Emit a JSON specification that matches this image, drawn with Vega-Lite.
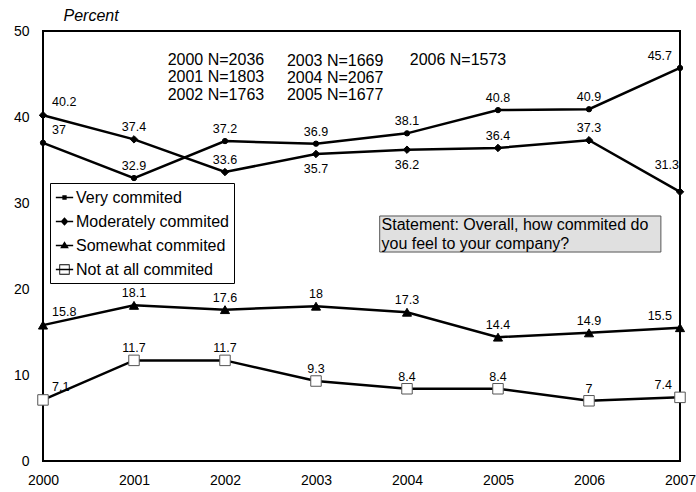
{
  "$schema": "https://vega.github.io/schema/vega-lite/v6.json",
  "width": 637,
  "height": 430,
  "autosize": {"type": "none"},
  "padding": {"left": 43, "top": 31, "right": 16, "bottom": 31},
  "background": "white",
  "config": {
    "font": "Liberation Sans",
    "view": {"stroke": "black", "strokeWidth": 2},
    "axis": {"grid": false, "domain": false, "ticks": false, "labelColor": "black", "labelFont": "Liberation Sans"}
  },
  "data": {
    "values": [
      {"year": 2000, "series": "Very commited", "value": 37},
      {"year": 2001, "series": "Very commited", "value": 32.9},
      {"year": 2002, "series": "Very commited", "value": 37.2},
      {"year": 2003, "series": "Very commited", "value": 36.9},
      {"year": 2004, "series": "Very commited", "value": 38.1},
      {"year": 2005, "series": "Very commited", "value": 40.8},
      {"year": 2006, "series": "Very commited", "value": 40.9},
      {"year": 2007, "series": "Very commited", "value": 45.7},
      {"year": 2000, "series": "Moderately commited", "value": 40.2},
      {"year": 2001, "series": "Moderately commited", "value": 37.4},
      {"year": 2002, "series": "Moderately commited", "value": 33.6},
      {"year": 2003, "series": "Moderately commited", "value": 35.7},
      {"year": 2004, "series": "Moderately commited", "value": 36.2},
      {"year": 2005, "series": "Moderately commited", "value": 36.4},
      {"year": 2006, "series": "Moderately commited", "value": 37.3},
      {"year": 2007, "series": "Moderately commited", "value": 31.3},
      {"year": 2000, "series": "Somewhat commited", "value": 15.8},
      {"year": 2001, "series": "Somewhat commited", "value": 18.1},
      {"year": 2002, "series": "Somewhat commited", "value": 17.6},
      {"year": 2003, "series": "Somewhat commited", "value": 18},
      {"year": 2004, "series": "Somewhat commited", "value": 17.3},
      {"year": 2005, "series": "Somewhat commited", "value": 14.4},
      {"year": 2006, "series": "Somewhat commited", "value": 14.9},
      {"year": 2007, "series": "Somewhat commited", "value": 15.5},
      {"year": 2000, "series": "Not at all commited", "value": 7.1},
      {"year": 2001, "series": "Not at all commited", "value": 11.7},
      {"year": 2002, "series": "Not at all commited", "value": 11.7},
      {"year": 2003, "series": "Not at all commited", "value": 9.3},
      {"year": 2004, "series": "Not at all commited", "value": 8.4},
      {"year": 2005, "series": "Not at all commited", "value": 8.4},
      {"year": 2006, "series": "Not at all commited", "value": 7},
      {"year": 2007, "series": "Not at all commited", "value": 7.4}
    ]
  },
  "encoding": {
    "x": {
      "field": "year", "type": "quantitative",
      "scale": {"domain": [2000, 2007], "nice": false, "zero": false},
      "axis": {"title": null, "values": [2000, 2001, 2002, 2003, 2004, 2005, 2006, 2007], "format": "d", "labelFontSize": 14, "labelPadding": 12, "labelFlush": false, "labelOverlap": false}
    },
    "y": {
      "field": "value", "type": "quantitative",
      "scale": {"domain": [0, 50], "nice": false},
      "axis": {"title": "Percent", "values": [0, 10, 20, 30, 40, 50], "labelFontSize": 14, "labelPadding": 14,
        "titleAngle": 0, "titleAlign": "left", "titleBaseline": "middle", "titleX": 20, "titleY": -16,
        "titleFontSize": 16, "titleFontStyle": "italic", "titleFontWeight": "normal", "titleFont": "Liberation Sans"}
    }
  },
  "layer": [
    {
      "mark": {"type": "line", "color": "black", "strokeWidth": 2.5},
      "encoding": {"detail": {"field": "series"}}
    },
    {
      "mark": {"type": "point", "filled": true, "strokeWidth": 1, "opacity": 1},
      "encoding": {
        "shape": {"field": "series", "type": "nominal", "legend": null,
          "scale": {"domain": ["Very commited", "Moderately commited", "Somewhat commited", "Not at all commited"], "range": ["circle", "diamond", "triangle-up", "square"]}},
        "fill": {"field": "series", "type": "nominal", "legend": null,
          "scale": {"domain": ["Very commited", "Moderately commited", "Somewhat commited", "Not at all commited"], "range": ["black", "black", "black", "white"]}},
        "stroke": {"field": "series", "type": "nominal", "legend": null,
          "scale": {"domain": ["Very commited", "Moderately commited", "Somewhat commited", "Not at all commited"], "range": ["black", "black", "black", "#555555"]}},
        "size": {"field": "series", "type": "nominal", "legend": null,
          "scale": {"domain": ["Very commited", "Moderately commited", "Somewhat commited", "Not at all commited"], "range": [28, 110, 90, 100]}}
      }
    },
    {
      "mark": {"type": "point", "filled": true, "opacity": 0, "size": 300, "color": "black", "strokeWidth": 1.5},
      "encoding": {
        "shape": {"field": "series", "type": "nominal",
          "scale": {"domain": ["Very commited", "Moderately commited", "Somewhat commited", "Not at all commited"],
            "range": [
              "M-1,-0.1H1V0.1H-1ZM-0.25,-0.25H0.25V0.25H-0.25Z",
              "M-1,-0.1H1V0.1H-1ZM0,-0.5L0.45,0L0,0.5L-0.45,0Z",
              "M-1,-0.1H1V0.1H-1ZM0,-0.5L0.5,0.32H-0.5Z",
              "M-1,-0.1H1V0.1H-1ZM-0.6,-0.6H0.6V0.6H-0.6ZM-0.5,-0.5V0.5H0.5V-0.5Z"]},
          "legend": {"title": null, "orient": "none", "legendX": 7, "legendY": 152, "direction": "vertical",
            "fillColor": "white", "strokeColor": "black", "padding": 5,
            "symbolSize": 300, "symbolFillColor": "black", "symbolStrokeColor": "black", "symbolOpacity": 1,
            "labelFontSize": 16, "labelFont": "Liberation Sans", "labelColor": "black", "labelOffset": 2, "rowPadding": 6, "labelLimit": 300,
            "labelExpr": "datum.label + '\u00a0\u00a0\u00a0\u00a0\u00a0'",
            "symbolOffset": 0,
            "encode": {"symbols": {"update": {"opacity": {"value": 1}, "fill": {"value": "black"}, "size": {"value": 300}}}}}
        }
      }
    },
    {
      "transform": [{"filter": "datum.year > 2000 && datum.year < 2007 && !(datum.series == 'Moderately commited' && (datum.year == 2003 || datum.year == 2004))"}],
      "mark": {"type": "text", "fontSize": 12.5, "align": "center", "baseline": "middle", "dy": -12, "color": "black"},
      "encoding": {"text": {"field": "value", "type": "nominal"}}
    },
    {
      "transform": [{"filter": "datum.series == 'Moderately commited' && (datum.year == 2003 || datum.year == 2004)"}],
      "mark": {"type": "text", "fontSize": 12.5, "align": "center", "baseline": "middle", "dy": 15, "color": "black"},
      "encoding": {"text": {"field": "value", "type": "nominal"}}
    },
    {
      "transform": [{"filter": "datum.year == 2000"}],
      "mark": {"type": "text", "fontSize": 12.5, "align": "left", "baseline": "middle", "dx": 9, "dy": -13, "color": "black"},
      "encoding": {"text": {"field": "value", "type": "nominal"}}
    },
    {
      "transform": [{"filter": "datum.year == 2007 && datum.series != 'Moderately commited'"}],
      "mark": {"type": "text", "fontSize": 12.5, "align": "right", "baseline": "middle", "dx": -8, "dy": -12, "color": "black"},
      "encoding": {"text": {"field": "value", "type": "nominal"}}
    },
    {
      "transform": [{"filter": "datum.year == 2007 && datum.series == 'Moderately commited'"}],
      "mark": {"type": "text", "fontSize": 12.5, "align": "right", "baseline": "middle", "dx": -1, "dy": -27, "color": "black"},
      "encoding": {"text": {"field": "value", "type": "nominal"}}
    },
    {
      "transform": [{"filter": "datum.year == 2000 && datum.series == 'Very commited'"}],
      "mark": {"type": "text", "fontSize": 16, "align": "left", "baseline": "top", "lineHeight": 17.5, "color": "black",
        "text": ["2000  N=2036", "2001  N=1803", "2002  N=1763"]},
      "encoding": {"x": {"datum": 2001.37}, "y": {"datum": 47.6}}
    },
    {
      "transform": [{"filter": "datum.year == 2000 && datum.series == 'Very commited'"}],
      "mark": {"type": "text", "fontSize": 16, "align": "left", "baseline": "top", "lineHeight": 17, "color": "black",
        "text": ["2003  N=1669", "2004  N=2067", "2005  N=1677"]},
      "encoding": {"x": {"datum": 2002.68}, "y": {"datum": 47.45}}
    },
    {
      "transform": [{"filter": "datum.year == 2000 && datum.series == 'Very commited'"}],
      "mark": {"type": "text", "fontSize": 16, "align": "left", "baseline": "top", "color": "black",
        "text": "2006  N=1573"},
      "encoding": {"x": {"datum": 2004.03}, "y": {"datum": 47.6}}
    },
    {
      "transform": [{"filter": "datum.year == 2000 && datum.series == 'Very commited'"}],
      "mark": {"type": "rect", "fill": "#e0e0e0", "stroke": "#555555", "strokeWidth": 1},
      "encoding": {"x": {"datum": 2003.70}, "x2": {"datum": 2006.79}, "y": {"datum": 28.49}, "y2": {"datum": 24.30}}
    },
    {
      "transform": [{"filter": "datum.year == 2000 && datum.series == 'Very commited'"}],
      "mark": {"type": "text", "fontSize": 16, "align": "left", "baseline": "top", "lineHeight": 19, "color": "black",
        "text": ["Statement: Overall, how commited do", "you feel to your company?"]},
      "encoding": {"x": {"datum": 2003.72}, "y": {"datum": 28.35}}
    }
  ],
  "resolve": {"scale": {"shape": "independent"}, "legend": {"shape": "independent"}}
}
